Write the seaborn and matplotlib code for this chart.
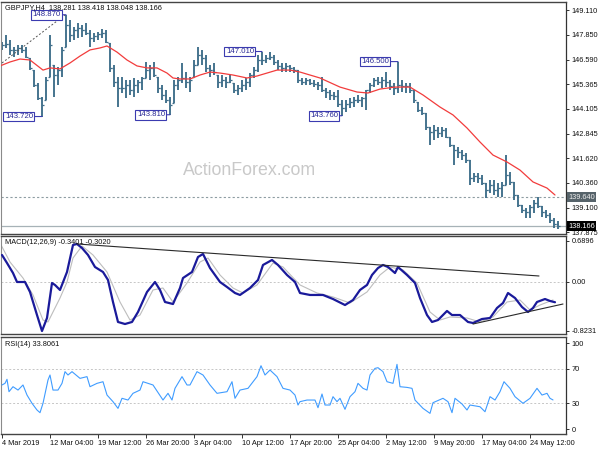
import matplotlib
matplotlib.use("Agg")
import matplotlib.pyplot as plt
import matplotlib.transforms as mtransforms
import numpy as np
import pandas as pd
import seaborn as sns

# ---------------- data ----------------
title_text = "GBPJPY,H4  138.281 138.418 138.048 138.166"
macd_title = "MACD(12,26,9) -0.3401 -0.3020"
rsi_title = "RSI(14) 33.8061"
watermark = "ActionForex.com"

first_open = 147.20
bar_high = [147.49, 147.85, 147.59, 147.24, 147.34, 147.34, 147.24, 146.68, 146.07, 145.42,
            144.71, 145.72, 147.85, 146.33, 146.23, 147.24, 148.87, 148.60, 148.25, 148.45,
            148.35, 148.45, 148.10, 147.95, 148.00, 148.15, 148.10, 147.44, 146.33, 145.72,
            145.72, 145.57, 145.57, 145.67, 145.57, 145.72, 146.48, 146.33, 146.48, 145.72,
            145.31, 145.06, 144.71, 145.57, 145.72, 146.43, 145.97, 145.72, 146.58, 147.24,
            147.09, 146.83, 146.33, 146.43, 145.82, 145.82, 145.72, 145.82, 145.42, 145.31,
            145.57, 145.67, 145.92, 146.23, 146.83, 147.01, 146.83, 146.98, 146.83, 146.58,
            146.43, 146.43, 146.33, 146.23, 146.07, 145.67, 145.67, 145.62, 145.57, 145.47,
            145.72, 145.16, 145.06, 144.96, 145.06, 144.56, 144.56, 144.66, 144.71, 144.81,
            144.71, 145.06, 145.42, 145.67, 145.72, 145.72, 145.97, 145.57, 145.42, 146.50,
            145.57, 145.42, 145.42, 145.06, 144.46, 144.20, 143.90, 143.19, 143.29, 143.19,
            143.19, 143.14, 142.68, 142.29, 142.18, 142.03, 141.87, 141.52, 140.86, 140.86,
            140.76, 140.36, 140.51, 140.51, 140.36, 140.41, 141.77, 140.91, 140.41, 139.75,
            139.24, 139.09, 139.24, 139.50, 139.65, 139.19, 138.99, 138.84, 138.58, 138.42]
bar_low = [147.09, 147.19, 146.83, 146.73, 146.83, 146.93, 146.68, 146.07, 145.21, 144.56,
           143.72, 144.56, 145.72, 144.71, 145.31, 145.72, 147.24, 147.49, 147.59, 147.69,
           147.74, 147.85, 147.24, 147.49, 147.59, 147.69, 147.44, 145.97, 145.21, 144.20,
           144.91, 144.66, 144.81, 144.71, 144.91, 145.06, 145.67, 145.57, 145.72, 144.91,
           144.56, 144.40, 143.81, 144.40, 145.06, 145.42, 145.16, 144.96, 145.72, 146.33,
           146.33, 145.97, 145.72, 145.82, 145.16, 145.21, 145.16, 145.42, 144.91, 144.81,
           144.96, 145.06, 145.21, 145.67, 145.97, 146.33, 146.43, 146.58, 146.33, 146.07,
           145.97, 145.97, 145.97, 145.92, 145.42, 145.31, 145.31, 145.31, 145.21, 145.06,
           144.96, 144.66, 144.56, 144.56, 144.20, 143.76, 143.95, 144.15, 144.20, 144.40,
           144.20, 144.05, 144.91, 145.21, 145.31, 145.16, 145.21, 145.06, 144.81, 144.91,
           144.96, 144.91, 144.91, 144.40, 143.95, 143.80, 143.04, 142.29, 142.53, 142.64,
           142.68, 142.64, 142.18, 141.27, 141.62, 141.52, 141.37, 140.25, 140.41, 140.36,
           140.25, 139.60, 139.85, 139.75, 139.65, 139.65, 140.25, 140.25, 139.50, 139.14,
           138.84, 138.58, 138.58, 138.84, 139.09, 138.64, 138.58, 138.33, 138.08, 138.05]
bar_close = [147.34, 147.39, 147.09, 147.09, 147.19, 147.09, 146.73, 146.18, 145.31, 144.66,
             144.30, 145.57, 147.34, 145.82, 146.07, 147.09, 148.35, 147.85, 148.10, 148.20,
             148.10, 147.95, 147.69, 147.79, 147.90, 147.95, 147.49, 146.18, 145.47, 145.16,
             145.16, 145.31, 145.06, 145.31, 145.47, 145.67, 146.07, 146.18, 145.82, 145.16,
             144.81, 144.56, 144.30, 145.31, 145.57, 145.67, 145.47, 145.57, 146.33, 146.83,
             146.68, 146.18, 146.07, 145.97, 145.47, 145.57, 145.47, 145.57, 145.06, 145.16,
             145.31, 145.47, 145.82, 146.07, 146.58, 146.58, 146.68, 146.73, 146.48, 146.28,
             146.18, 146.28, 146.18, 146.07, 145.57, 145.47, 145.57, 145.42, 145.37, 145.31,
             145.06, 144.96, 144.81, 144.76, 144.35, 144.15, 144.35, 144.46, 144.56, 144.56,
             144.66, 145.06, 145.31, 145.57, 145.47, 145.57, 145.47, 145.26, 145.16, 145.31,
             145.26, 145.26, 145.06, 144.56, 144.05, 143.90, 143.19, 142.94, 143.04, 142.89,
             143.04, 142.68, 142.29, 142.03, 141.92, 141.77, 141.52, 140.61, 140.71, 140.61,
             140.36, 140.00, 140.25, 140.00, 140.10, 140.25, 140.76, 140.41, 139.75, 139.24,
             138.99, 138.89, 139.14, 139.34, 139.19, 138.89, 138.74, 138.48, 138.28, 138.17]

ma_pos = [-0.5, 2, 4.5, 7, 10.25, 12, 14.5, 17, 19.5, 22, 24.5, 26.25, 28.75, 31.25, 33.75,
          36.25, 38.75, 41.25, 42.75, 44.5, 47, 49.5, 52, 54.5, 57.75, 61.25, 63.75, 66.25,
          68.75, 72, 74.5, 79.5, 84.5, 88.75, 91.5, 94.5, 98.25, 102, 105.25, 109.5, 112.75,
          116.25, 119.5, 122.75, 126.25, 129.5, 132.75, 136.25, 138.25]
ma_val = [146.28, 146.48, 146.63, 146.58, 146.07, 146.18, 146.13, 146.43, 146.78, 147.09,
          147.19, 147.29, 146.98, 146.58, 146.28, 146.18, 146.18, 145.92, 145.67, 145.62,
          145.62, 145.82, 145.97, 145.92, 145.82, 145.67, 145.77, 145.92, 146.07, 146.07,
          145.97, 145.67, 145.21, 144.96, 144.91, 145.11, 145.21, 145.21, 144.81, 144.20,
          143.80, 143.14, 142.43, 141.77, 141.42, 141.01, 140.41, 140.10, 139.75]

swing_text = ["148.870", "143.720", "143.810", "147.010", "146.500", "143.760"]
swing_bar = [16, 10, 42, 65, 99, 85]
swing_price = [148.87, 143.72, 143.81, 147.01, 146.50, 143.76]

trend_pos = [0, 15.75]
trend_price = [146.43, 148.86]
support_level = 139.64
last_price = 138.166

price_ticks = [149.110, 147.850, 146.590, 145.365, 144.105, 142.845, 141.620, 140.360, 139.100, 137.875]

macd_pos = [0, 1.25, 2.75, 3.75, 5.75, 7, 8.75, 10, 11.25, 12.5, 13.25, 14.5, 16.25, 17.75, 18.75,
            20, 21.5, 23.25, 25.25, 26.5, 27.75, 29, 30.75, 32.5, 34, 36.25, 38.25, 39.5, 40.75,
            42.75, 44.5, 45.25, 47.5, 49, 50.25, 52, 54.5, 56.25, 58.25, 59.5, 62, 64, 65.25,
            67.5, 69, 71.25, 73.25, 74.5, 77, 80.25, 82.75, 85.75, 87.75, 89.5, 91.25, 92.5, 94,
            95.25, 96.5, 98.25, 99, 101.25, 103.25, 104.5, 106.25, 107.5, 109, 111.25, 112.5,
            114.5, 116.5, 117.75, 120, 122, 123.75, 125.25, 126.5, 128.25, 130, 131.5, 132.75,
            133.75, 135.75, 137, 138.25]
macd_val = [0.454, 0.319, 0.151, 0.0, 0.0, -0.168, -0.555, -0.824, -0.605, -0.017, -0.05, -0.134,
            0.168, 0.622, 0.639, 0.571, 0.454, 0.252, 0.168, 0.034, -0.336, -0.672, -0.706,
            -0.672, -0.504, -0.168, 0.0, -0.134, -0.336, -0.370, -0.101, 0.067, 0.168, 0.420,
            0.471, 0.235, 0.0, -0.084, -0.185, -0.218, -0.101, 0.034, 0.286, 0.370, 0.286,
            0.118, 0.0, -0.185, -0.218, -0.218, -0.286, -0.387, -0.303, -0.134, -0.050, 0.118,
            0.235, 0.286, 0.252, 0.151, 0.252, 0.118, -0.017, -0.269, -0.555, -0.672, -0.639,
            -0.487, -0.555, -0.555, -0.672, -0.689, -0.622, -0.605, -0.437, -0.353, -0.185,
            -0.269, -0.420, -0.504, -0.437, -0.336, -0.286, -0.319, -0.340]
sig_pos = [-0.5, 2, 5.25, 7.75, 10.25, 11.5, 14.5, 16.25, 17.75, 20, 22.75, 26.25, 29.5, 32,
           34.5, 37.75, 40.25, 42.75, 46.25, 49.5, 51.5, 54.5, 57.75, 60.25, 63.75, 67.75,
           70.25, 74.5, 78.75, 82.75, 87, 91.25, 94.5, 97, 100.25, 103.75, 107, 109.5, 112,
           116.25, 119.5, 122.75, 126.25, 129.5, 132, 134.5, 137.75]
sig_val = [0.655, 0.336, 0.067, -0.218, -0.639, -0.672, -0.269, 0.0, 0.403, 0.605, 0.454,
           0.168, -0.336, -0.639, -0.555, -0.134, -0.101, -0.336, -0.017, 0.336, 0.403, 0.118,
           -0.101, -0.185, -0.050, 0.319, 0.252, -0.050, -0.185, -0.252, -0.353, -0.168, 0.118,
           0.252, 0.202, -0.017, -0.504, -0.639, -0.588, -0.605, -0.672, -0.588, -0.336,
           -0.303, -0.471, -0.387, -0.302]
macd_upper_pos = [18.75, 134.25]
macd_upper_val = [0.639, 0.101]
macd_lower_pos = [117.75, 140.25]
macd_lower_val = [-0.706, -0.370]
macd_ticks = [0.6896, 0.0, -0.8231]
macd_tick_labels = ["0.6896", "0.00", "-0.8231"]

rsi_pos = [0, 0.75, 1.25, 1.75, 2.75, 4, 5.25, 6.25, 7.5, 8.75, 9.5, 10.25, 11.5, 12, 12.75, 14,
           15, 15.75, 16.5, 17.5, 19.5, 21.25, 22, 23.75, 25.25, 26.25, 27.75, 29, 30, 31.5,
           32.75, 34.5, 35.25, 37.75, 40.25, 41.5, 42.5, 43.25, 45, 46.25, 47, 48.75, 50.25, 52,
           53.75, 56.25, 57.5, 58.25, 59.5, 61.5, 63.75, 64.75, 65.75, 67, 68.75, 70.25, 72,
           73.25, 74, 74.5, 76.25, 78.25, 79, 80, 80.75, 82, 82.75, 83.75, 84.5, 85.75, 87,
           88.25, 89, 90.25, 91.25, 92, 93.25, 94, 95.25, 96.25, 97.75, 98.75, 99.5, 101.25,
           102.5, 103.25, 105.25, 107, 107.75, 110.25, 111.5, 112.5, 113.25, 115, 116.25, 117,
           119.5, 120.75, 122, 123.25, 124.5, 125.5, 127, 128.25, 130.25, 132, 133.75, 135,
           136.25, 137, 137.75]
rsi_val = [51.2, 53.1, 57.8, 43.4, 49.2, 45.3, 51.2, 39.5, 29.9, 22.1, 19.0, 29.9, 57.0, 62.8,
           45.3, 45.3, 53.1, 66.7, 62.8, 66.7, 58.9, 60.9, 49.2, 53.1, 55.0, 39.5, 31.8, 24.0,
           35.7, 33.7, 41.5, 45.3, 55.0, 51.2, 33.7, 41.5, 33.7, 47.3, 60.9, 51.2, 51.2, 66.7,
           62.8, 51.2, 41.5, 43.4, 55.0, 35.7, 45.3, 47.3, 60.9, 73.6, 62.8, 68.6, 60.9, 47.3,
           45.3, 39.5, 27.9, 31.8, 33.7, 33.7, 24.8, 40.7, 27.9, 27.9, 37.6, 31.8, 35.7, 22.9,
           37.6, 43.4, 53.1, 47.3, 45.3, 62.8, 70.5, 71.3, 66.7, 55.0, 53.1, 75.2, 49.2, 48.4,
           47.3, 33.7, 24.0, 18.2, 30.6, 35.7, 31.8, 19.0, 35.7, 29.1, 22.1, 27.9, 25.9, 20.1,
           37.6, 33.7, 43.4, 55.0, 47.3, 37.6, 29.9, 35.7, 47.3, 39.5, 41.5, 35.7, 33.8]
rsi_ticks = [100, 70, 30, 0]
rsi_levels = [70, 30]

time_tick_bars = [0, 12, 24, 36, 48, 60, 72, 84, 96, 108, 120, 132]
time_labels = ["4 Mar 2019", "12 Mar 04:00", "19 Mar 12:00", "26 Mar 20:00", "3 Apr 04:00",
               "10 Apr 12:00", "17 Apr 20:00", "25 Apr 04:00", "2 May 12:00", "9 May 20:00",
               "17 May 04:00", "24 May 12:00"]

# ---------------- style ----------------
sns.set_style("white")
plt.rcParams["font.family"] = ["Liberation Sans", "DejaVu Sans"]
FS = 5.3
BAR = "#3f6e8a"
LBL = "#2a2a96"

W, H = 600, 450
fig = plt.figure(figsize=(6, 4.5), dpi=100)


def rect(l, t, r, b):
    return [l / W, 1 - b / H, (r - l) / W, (b - t) / H]


ax_p = fig.add_axes(rect(1, 2, 566, 234))
ax_m = fig.add_axes(rect(1, 236, 566, 334))
ax_r = fig.add_axes(rect(1, 337, 566, 434))

XL = (-0.25, 141.0)

# ---------------- price panel ----------------
bars = pd.DataFrame({"high": bar_high, "low": bar_low, "close": bar_close})
bars["pos"] = np.arange(len(bars))
bars["open"] = np.clip(bars["close"].shift(1).fillna(first_open), bars["low"], bars["high"])

ax_p.text(249.5 / W, 1 - 175 / H, watermark, transform=fig.transFigure, ha="center",
          va="baseline", fontsize=12.8, color="#c9c9c9", zorder=0)
ax_p.axhline(support_level, color="#8d9ca2", lw=0.8, ls=(0, (2, 2)), zorder=1)
ax_p.axhline(last_price, color="#a7b2b7", lw=0.9, zorder=1)
ax_p.vlines(bars["pos"], bars["low"], bars["high"], color=BAR, lw=1.35, zorder=2)
ax_p.hlines(bars["open"], bars["pos"] - 0.6, bars["pos"], color=BAR, lw=0.9, zorder=2)
ax_p.hlines(bars["close"], bars["pos"], bars["pos"] + 0.6, color=BAR, lw=0.9, zorder=2)
sns.lineplot(x=ma_pos, y=ma_val, ax=ax_p, color="#f23c3c", lw=0.9, zorder=3)
ax_p.plot(trend_pos, trend_price, color="#555555", lw=0.7, ls=(0, (2, 2)), zorder=3)

label_gap_px = [5, 9, 5, 8, 9, 4]
for txt, b, p, g in zip(swing_text, swing_bar, swing_price, label_gap_px):
    ax_p.annotate(txt, xy=(b, p), xytext=(-g, 0), textcoords="offset pixels",
                  ha="right", va="center", fontsize=FS + 0.3, color=LBL, zorder=5,
                  bbox=dict(boxstyle="square,pad=0.18", fc="white", ec="#3b3bb0", lw=0.8),
                  arrowprops=dict(arrowstyle="-", color="#3b3bb0", lw=0.8, shrinkA=0, shrinkB=0))

ax_p.set_xlim(*XL)
ax_p.set_ylim(137.776, 149.515)
ax_p.yaxis.tick_right()
ax_p.set_yticks(price_ticks)
ax_p.set_yticklabels([f"{v:.3f}" for v in price_ticks])
ax_p.tick_params(axis="x", bottom=False, labelbottom=False)

blend = mtransforms.blended_transform_factory(ax_p.transAxes, ax_p.transData)
ax_p.text(1.004, support_level, f"{support_level:.3f}", transform=blend, ha="left", va="center",
          fontsize=FS, color="#eeeeee", zorder=6, clip_on=False,
          bbox=dict(boxstyle="square,pad=0.2", fc="#56636a", ec="none"))
ax_p.text(1.004, last_price, f"{last_price:.3f}", transform=blend, ha="left", va="center",
          fontsize=FS, color="white", zorder=6, clip_on=False,
          bbox=dict(boxstyle="square,pad=0.2", fc="black", ec="none"))
fig.text(5 / W, 1 - 8 / H, title_text, ha="left", va="center", fontsize=FS, color="#111111")

# ---------------- MACD panel ----------------
ax_m.axhline(0, color="#c6c6c6", lw=0.7, ls=(0, (2, 2)), zorder=1)
sns.lineplot(x=sig_pos, y=sig_val, ax=ax_m, color="#bdbdbd", lw=0.8, zorder=2)
sns.lineplot(x=macd_pos, y=macd_val, ax=ax_m, color="#1a1a9a", lw=1.6, zorder=3)
ax_m.plot(macd_upper_pos, macd_upper_val, color="#2a2a2a", lw=0.8, zorder=4)
ax_m.plot(macd_lower_pos, macd_lower_val, color="#2a2a2a", lw=0.8, zorder=4)
ax_m.set_xlim(*XL)
ax_m.set_ylim(-0.874, 0.773)
ax_m.yaxis.tick_right()
ax_m.set_yticks(macd_ticks)
ax_m.set_yticklabels(macd_tick_labels)
ax_m.tick_params(axis="x", bottom=False, labelbottom=False)
fig.text(5 / W, 1 - 242 / H, macd_title, ha="left", va="center", fontsize=FS, color="#111111")

# ---------------- RSI panel ----------------
for lv in rsi_levels:
    ax_r.axhline(lv, color="#c6c6c6", lw=0.7, ls=(0, (2, 2)), zorder=1)
sns.lineplot(x=rsi_pos, y=rsi_val, ax=ax_r, color="#3f9cff", lw=0.8, zorder=3)
ax_r.set_xlim(*XL)
ax_r.set_ylim(-5.8, 107.0)
ax_r.yaxis.tick_right()
ax_r.set_yticks(rsi_ticks)
ax_r.set_yticklabels([str(v) for v in rsi_ticks])
ax_r.set_xticks(time_tick_bars)
ax_r.set_xticklabels(time_labels)
for lab in ax_r.get_xticklabels():
    lab.set_ha("left")
ax_r.tick_params(axis="x", bottom=True, length=3, width=0.6, pad=1.5, labelsize=FS,
                 colors="#111111")
fig.text(5 / W, 1 - 344 / H, rsi_title, ha="left", va="center", fontsize=FS, color="#111111")

for ax in (ax_p, ax_m, ax_r):
    ax.set_xlabel("")
    ax.set_ylabel("")
    ax.tick_params(axis="y", right=True, left=False, length=2.5, width=0.6, pad=1.5,
                   labelsize=FS, colors="#111111")
    ax.spines["left"].set_color("#8a8a8a")
    ax.spines["left"].set_linewidth(0.8)
    ax.spines["right"].set_color("#333333")
    ax.spines["right"].set_linewidth(0.9)
    ax.spines["top"].set_color("#444444")
    ax.spines["top"].set_linewidth(1.0)
    ax.spines["bottom"].set_color("#444444")
    ax.spines["bottom"].set_linewidth(1.0)
    if ax.get_legend() is not None:
        ax.get_legend().remove()

fig.savefig("out.png", dpi=100)
